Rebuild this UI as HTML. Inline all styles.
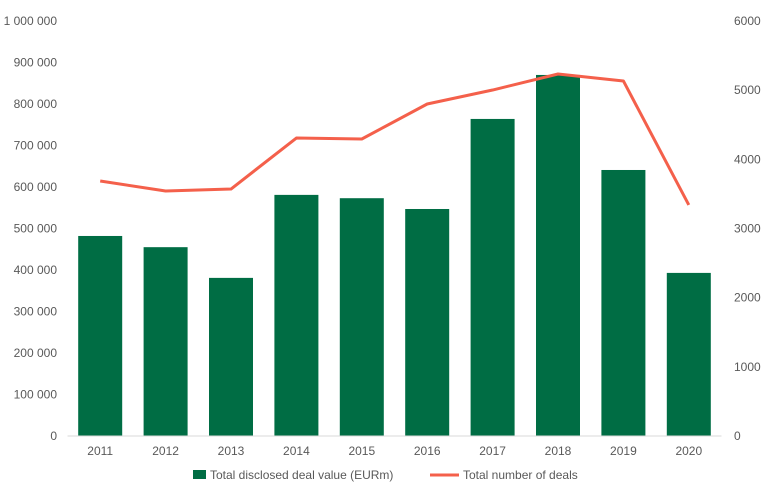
<!DOCTYPE html>
<html><head><meta charset="utf-8"><style>
body{margin:0;background:#fff;font-family:"Liberation Sans",sans-serif;}
svg text{font-family:"Liberation Sans",sans-serif;fill:#595959;font-size:12px;}
</style></head><body>
<svg id="chart" width="768" height="489"></svg>
<script>
const categories=["2011","2012","2013","2014","2015","2016","2017","2018","2019","2020"];
const dealValues=[482000,455000,381000,581000,573000,547000,764000,870000,641000,393000];
const dealCounts=[3687,3542,3571,4308,4294,4800,5002,5234,5133,3340];
const leftTicks=[0,100000,200000,300000,400000,500000,600000,700000,800000,900000,1000000];
const rightTicks=[0,1000,2000,3000,4000,5000,6000];
const NS="http://www.w3.org/2000/svg";
const svg=document.getElementById("chart");
const X0=67.5,X1=721.5,Y0=436,Y1=21;
const band=(X1-X0)/categories.length;
const xc=i=>X0+band*(i+0.5);
const yL=v=>Y0-(v/1000000)*(Y0-Y1);
const yR=v=>Y0-(v/6000)*(Y0-Y1);
function mk(t,a){const e=document.createElementNS(NS,t);for(const k in a)e.setAttribute(k,a[k]);svg.appendChild(e);return e;}
const fmt=v=>String(v).replace(/\B(?=(\d{3})+(?!\d))/g," ");
leftTicks.forEach(v=>{const t=mk("text",{x:57,y:yL(v)+4,"text-anchor":"end"});t.textContent=fmt(v);

});
rightTicks.forEach(v=>{const t=mk("text",{x:734,y:yR(v)+4,"text-anchor":"start"});t.textContent=v;

});
dealValues.forEach((v,i)=>{const r=mk("rect",{x:xc(i)-22,y:yL(v),width:44,height:Y0-yL(v),fill:"#006d44"});

});
const ax=mk("line",{x1:X0,x2:X1,y1:Y0,y2:Y0,stroke:"#d9d9d9","stroke-width":1});


categories.forEach((c,i)=>{const t=mk("text",{x:xc(i),y:455,"text-anchor":"middle"});t.textContent=c;

});
const pts=dealCounts.map((v,i)=>xc(i)+","+yR(v)).join(" ");
const pl=mk("polyline",{points:pts,fill:"none",stroke:"#f4604b","stroke-width":3,"stroke-linejoin":"round"});


const lg1=mk("rect",{x:193,y:470,width:13,height:9,fill:"#006d44"});


const lt1=mk("text",{x:210,y:479});lt1.textContent="Total disclosed deal value (EURm)";


const lg2=mk("line",{x1:430,x2:459,y1:475,y2:475,stroke:"#f4604b","stroke-width":3});


const lt2=mk("text",{x:463,y:479});lt2.textContent="Total number of deals";


</script>
</body></html>
